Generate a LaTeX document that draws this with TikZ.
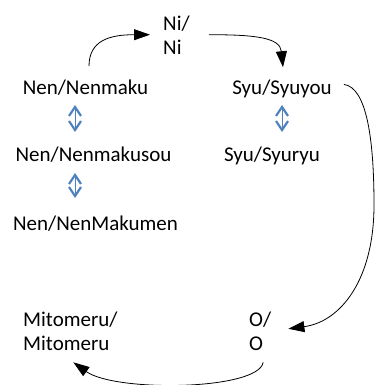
\documentclass[tikz,border=0pt]{standalone}
\usepackage{fontspec}
\setmainfont{Carlito}
\usetikzlibrary{arrows.meta,calc}
\definecolor{ablue}{HTML}{4F81BD}
\begin{document}
\begin{tikzpicture}[x=1pt,y=-1pt,
  lbl/.style={inner sep=0pt, font=\fontsize{21}{24}\selectfont},
  flow/.style={line width=0.8pt, -{Triangle[length=16pt,width=11pt]}},
  dbl/.style={ablue, line width=0.7pt,
    {Straight Barb[length=9pt,width=12pt,line width=2.2pt]}-{Straight Barb[length=9pt,width=12pt,line width=2.2pt]}}]
\useasboundingbox (0,0) rectangle (375,385);
\node[lbl,anchor=base] (nen1) at (85.5,95) {Nen/Nenmaku};
\node[lbl,anchor=base] (nen2) at (93.5,161) {Nen/Nenmakusou};
\node[lbl,anchor=base] (nen3) at (95.5,230) {Nen/NenMakumen};
\node[lbl,anchor=base] (syu1) at (282,95) {Syu/Syuyou};
\node[lbl,anchor=base] (syu2) at (272,161) {Syu/Syuryu};
\node[lbl,align=left,anchor=base west] (ni) at (163,55) {Ni/\\Ni};
\node[lbl,align=left,anchor=base west] (mito) at (23,350) {Mitomeru/\\Mitomeru};
\node[lbl,align=left,anchor=base west] (o) at (249,350) {O/\\O};
\coordinate (rb) at (374,205);
% flow arrows
\draw[flow] ($(nen1.north)+(3.5,-14)$) .. controls +(0,-26) and +(-40,0) .. ($(ni.west)+(-13,-1)$);
\draw[flow] ($(ni.east)+(19,-1)$) .. controls +(45,0) and +(-3,-30) .. ($(syu1.north)+(1,-13)$);
\draw[flow] ($(syu1.east)+(12,-5)$) .. controls +(23,3) and +(0,-65) .. (rb)
  .. controls +(0,75) and +(52,-7) .. ($(o.east)+(17,-2)$);
\draw[flow] ($(o.south)+(3,12)$) .. controls +(-5,28) and +(42,30) .. ($(mito.south)+(3,12)$);
% double arrows
\draw[dbl] ($(nen1.base)+(-10.5,10)$) -- ($(nen2.base)+(-18.5,-29)$);
\draw[dbl] ($(nen2.base)+(-18.5,12)$) -- ($(nen3.base)+(-20.5,-32)$);
\draw[dbl] ($(syu1.base)+(0,10)$) -- ($(syu2.base)+(10,-29)$);
\end{tikzpicture}
\end{document}
